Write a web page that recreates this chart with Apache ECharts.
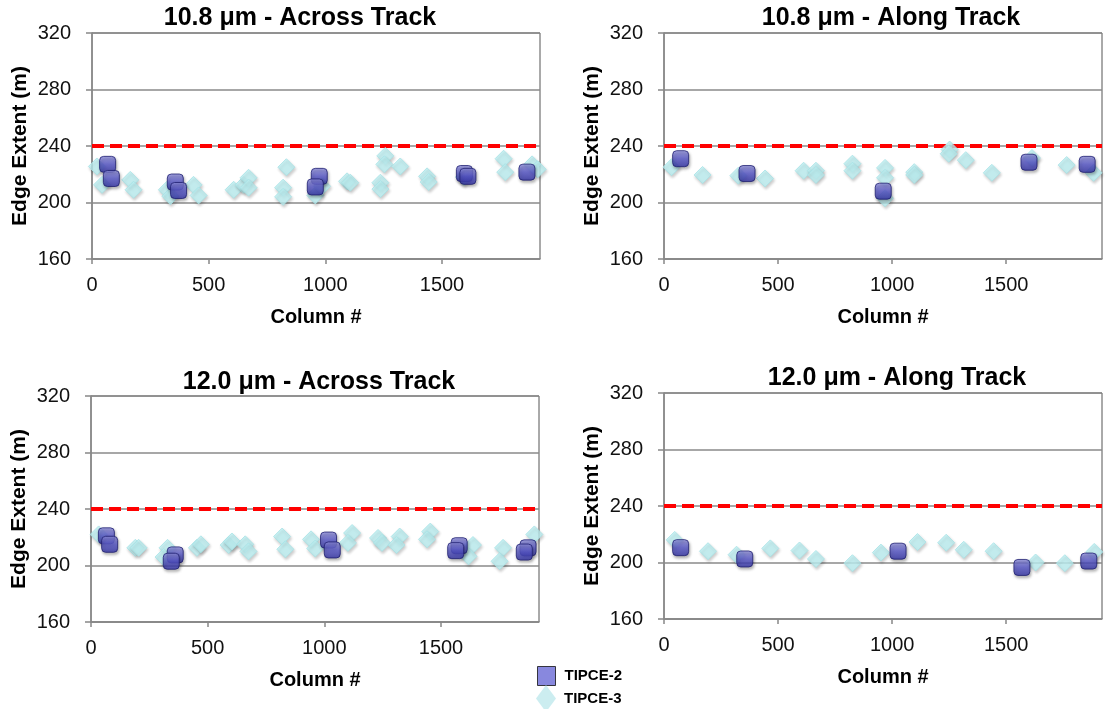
<!DOCTYPE html>
<html>
<head>
<meta charset="utf-8">
<script src="https://cdn.jsdelivr.net/npm/echarts@6/dist/echarts.min.js"></script>
<style>
  html, body { margin: 0; padding: 0; background: #fff; }
  #main { width: 1105px; height: 709px; }
</style>
</head>
<body>
<div id="main"></div>
<script>
// ===== data =====
var panelTitles = ['10.8 \u03bcm - Across Track', '10.8 \u03bcm - Along Track',
                   '12.0 \u03bcm - Across Track', '12.0 \u03bcm - Along Track'];
var yTicks = [160, 200, 240, 280, 320];
var xTicks = [0, 500, 1000, 1500];
var xMax = 1920;
var spec = 240;   // red dashed requirement line

// 10.8 um across track
var across108Tipce2 = [[67,227],[83,217],[357,214.5],[371,208.5],[974,218.5],[957,211],[1596,220.5],[1611,218.5],[1864,221.5]];
var across108Tipce3 = [[21,225.5],[43,212.5],[164,216],[178,209],[321,209],[336,204.5],[435,212.5],[457,205],[607,209],[650,212.5],
  [671,217.5],[671,210.5],[833,225],[819,210.5],[819,204],[957,205],[986,211.5],[1093,215],[1107,214],[1257,233],
  [1253,227],[1321,225.5],[1236,214],[1236,209.5],[1436,218.5],[1443,214.5],[1594,218],[1764,231],[1771,221.5],[1886,227],[1910,223.5]];

// 10.8 um along track
var along108Tipce2 = [[73,231],[364,220.5],[961,208],[1600,228.5],[1855,227]];
var along108Tipce3 = [[33,225],[169,219.5],[326,219],[443,217],[612,222.5],[666,222.5],[666,219.5],[826,227.5],[826,222.5],
  [969,224.5],[969,217.5],[969,203],[1097,221.5],[1097,219.5],[1252,237.5],[1248,234.5],[1323,230],[1437,221],[1613,231.5],
  [1765,226.5],[1883,221]];

// 12.0 um across track
var across120Tipce2 = [[66,221],[80,215],[361,207.5],[344,203],[1018,218],[1034,211],[1578,214],[1563,210.5],[1873,212.5],[1857,209.5]];
var across120Tipce3 = [[33,222],[190,212.5],[204,212.5],[328,212.5],[311,206],[454,212.5],[471,215],[590,214.5],[604,217],
  [661,215],[675,210],[819,220.5],[833,211.5],[943,218.5],[961,212],[1119,223],[1101,216],[1230,219.5],[1247,216],
  [1323,220.5],[1309,214.5],[1454,224],[1440,218.5],[1637,214.5],[1618,206.5],[1766,212.5],[1751,203],[1900,222]];

// 12.0 um along track
var along120Tipce2 = [[73,210.5],[354,202.5],[1026,208],[1569,196.5],[1862,201]];
var along120Tipce3 = [[47,216],[193,208],[318,205.5],[466,210],[594,208.5],[666,202.5],[826,199.5],[951,207],[1111,214.5],
  [1237,214],[1314,209],[1445,208],[1629,200],[1757,199.5],[1886,207.5]];

var tipce2Sets = [across108Tipce2, along108Tipce2, across120Tipce2, along120Tipce2];
var tipce3Sets = [across108Tipce3, along108Tipce3, across120Tipce3, along120Tipce3];

// ===== layout =====
var FONT = '"Liberation Sans", Arial, sans-serif';
var grids = [
    {left: 92,  top: 33,  width: 448, height: 226},
    {left: 664, top: 33,  width: 448, height: 226},
    {left: 91,  top: 396, width: 448, height: 226},
    {left: 664, top: 393, width: 448, height: 226}
];
var titlePos = [[295, 1], [886, 1], [314, 365], [892, 361]];

var myChart = echarts.init(document.getElementById('main'));

var option = {
    backgroundColor: '#fff',
    animation: false,
    title: [],
    grid: [],
    xAxis: [],
    yAxis: [],
    series: [],
    legend: [
        {
            left: 532, top: 661, orient: 'vertical',
            itemWidth: 18, itemHeight: 19,
            textStyle: {fontFamily: FONT, fontWeight: 'bold', fontSize: 15, color: '#000', padding: [0, 0, 0, 4]},
            data: [{name: 'TIPCE-2', icon: 'rect', itemStyle: {color: '#6a6ad6', borderColor: '#111', borderWidth: 1}}]
        },
        {
            left: 531, top: 680, orient: 'vertical',
            itemWidth: 20, itemHeight: 27,
            textStyle: {fontFamily: FONT, fontWeight: 'bold', fontSize: 15, color: '#000', padding: [0, 0, 0, 3]},
            data: [{name: 'TIPCE-3', icon: 'diamond', itemStyle: {color: '#bfe9ec', borderWidth: 0}}]
        }
    ]
};

for (var i = 0; i < 4; i++) {
    option.title.push({
        text: panelTitles[i],
        left: titlePos[i][0], top: titlePos[i][1],
        textAlign: 'center',
        textStyle: {fontFamily: FONT, fontWeight: 'bold', fontSize: 25, color: '#000'}
    });
    option.grid.push({
        left: grids[i].left, top: grids[i].top, width: grids[i].width, height: grids[i].height,
        show: true, borderColor: '#555', borderWidth: 1, backgroundColor: '#fff'
    });
    option.xAxis.push({
        gridIndex: i, type: 'value', min: 0, max: xMax, interval: 500,
        name: 'Column #', nameLocation: 'middle', nameGap: 48,
        nameTextStyle: {fontFamily: FONT, fontWeight: 'bold', fontSize: 20, color: '#000'},
        axisLine: {show: true, lineStyle: {color: '#888', width: 1.5}},
        axisTick: {show: true, length: 5, lineStyle: {color: '#888', width: 1.5},
            customValues: xTicks},
        axisLabel: {
            fontFamily: FONT, fontSize: 20, color: '#111', margin: 16,
            formatter: function (v) { return xTicks.indexOf(v) >= 0 ? String(v) : ''; }
        },
        splitLine: {show: false}
    });
    option.yAxis.push({
        gridIndex: i, type: 'value', min: 160, max: 320, interval: 40,
        name: 'Edge Extent (m)', nameLocation: 'middle', nameGap: 61,
        nameTextStyle: {fontFamily: FONT, fontWeight: 'bold', fontSize: 21, color: '#000'},
        axisLine: {show: true, lineStyle: {color: '#888', width: 1.5}},
        axisTick: {show: true, length: 6, lineStyle: {color: '#888', width: 1.5}},
        axisLabel: {fontFamily: FONT, fontSize: 20, color: '#111', margin: 21},
        splitLine: {show: true, lineStyle: {color: '#8a8a8a', width: 1.5}}
    });

    // red dashed requirement line
    option.series.push({
        type: 'line', xAxisIndex: i, yAxisIndex: i,
        data: [[0, spec], [xMax, spec]],
        symbol: 'none', silent: true, z: 3,
        lineStyle: {color: '#ff0000', width: 4, type: [12, 6]}
    });
    // TIPCE-3 diamonds
    option.series.push({
        name: 'TIPCE-3', type: 'scatter', xAxisIndex: i, yAxisIndex: i,
        data: tipce3Sets[i], symbol: 'diamond', symbolSize: 17, z: 4,
        itemStyle: {
            color: '#bff3f5', borderColor: '#a8e2e6', borderWidth: 1,
            shadowBlur: 3, shadowColor: 'rgba(0,0,0,0.25)', shadowOffsetX: 1, shadowOffsetY: 2
        }
    });
    // TIPCE-2 squares
    option.series.push({
        name: 'TIPCE-2', type: 'scatter', xAxisIndex: i, yAxisIndex: i,
        data: tipce2Sets[i], symbol: 'roundRect', symbolSize: 16, z: 5,
        itemStyle: {
            color: new echarts.graphic.LinearGradient(0, 0, 0, 1, [
                {offset: 0, color: '#9494e2'},
                {offset: 0.5, color: '#5656c8'},
                {offset: 1, color: '#3030a2'}
            ]),
            borderColor: '#1f1f70', borderWidth: 1,
            shadowBlur: 3, shadowColor: 'rgba(0,0,0,0.35)', shadowOffsetX: 1, shadowOffsetY: 2
        }
    });
}

myChart.setOption(option);
</script>
</body>
</html>
